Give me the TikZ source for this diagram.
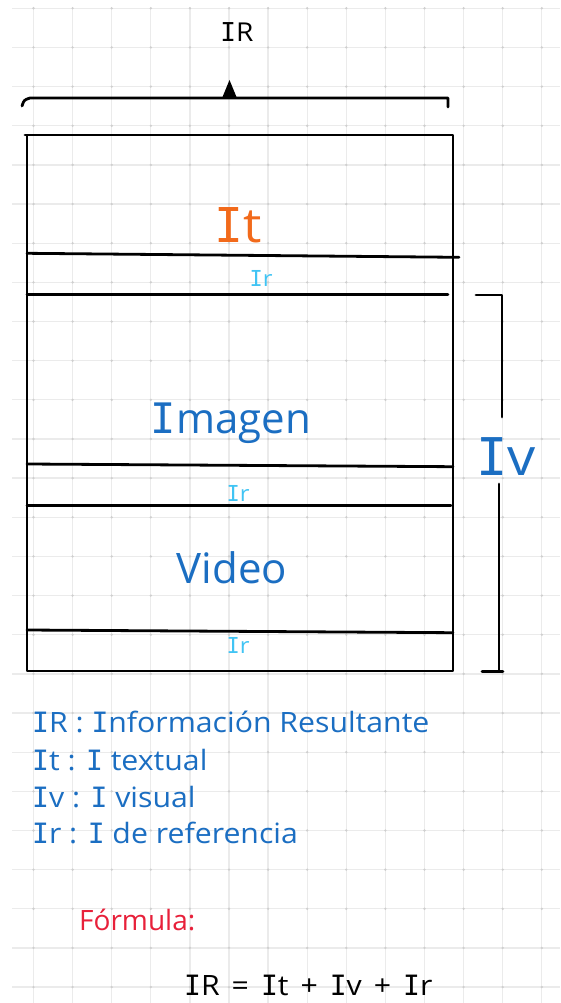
\documentclass[tikz,border=0pt]{standalone}
\usepackage{fontspec}
\setmainfont{Open Sans}
\newfontfamily\hand[FakeStretch=1.08]{Open Sans}
\newfontfamily\handn{Open Sans}
\newfontfamily\monoI{DejaVu Sans Mono}
\newcommand\WI{{\monoI I}}
\definecolor{gridc}{HTML}{EBEBEB}
\definecolor{gdot}{HTML}{CFCFCF}
\definecolor{orng}{HTML}{F26A1B}
\definecolor{lblue}{HTML}{40C4F4}
\definecolor{hblue}{HTML}{1B6EC2}
\definecolor{fred}{HTML}{E8203A}
\tikzset{
  gridline/.style={draw=gridc, line width=1.3pt},
  pen/.style={draw=black, line width=2.8pt, line cap=round, line join=round},
  lbl/.style={inner sep=0pt, anchor=base, font=\hand},
  leg/.style={inner sep=0pt, anchor=base west, text=hblue, font=\hand\fontsize{28}{30}\selectfont},
}
\begin{document}
\begin{tikzpicture}[x=1pt,y=-1pt]
\fill[white] (0,0) rectangle (560,1003);
\useasboundingbox (0,0) rectangle (560,1003);
% grid
\foreach \i in {0,...,13} \draw[gridline] ({33.5+39.1*\i},7) -- ({33.5+39.1*\i},1003);
\foreach \j in {0,...,25} \draw[gridline] (12,{8.3+39.15*\j}) -- (560,{8.3+39.15*\j});
\foreach \i in {0,...,13} \foreach \j in {0,...,25} \fill[gdot] ({33.5+39.1*\i},{8.3+39.15*\j}) circle (1.3);
% top bracket
\coordinate (bc) at (22,106);
\coordinate (bl) at (30,98);
\coordinate (br) at (448,98);
\coordinate (bt) at (448,107);
\draw[pen] (bc) .. controls (24,100) .. (bl) -- (br) -- (bt);
\coordinate (tri) at (229.5,97);
\fill (tri) ++(-7,0) -- ++(7,-17) -- ++(7,17) -- cycle;
\node[lbl, font=\hand\fontsize{26}{28}\selectfont] (IRtop) at (237,42) {\WI R};
% main box
\coordinate (tl) at (27,135);
\coordinate (tr) at (453,135);
\coordinate (brc) at (453,671);
\coordinate (blc) at (27,671);
\draw[pen] (25,135) -- (tr) -- (brc) -- (blc) -- (tl) -- cycle;
\coordinate (a1) at (27,253.3); \coordinate (b1) at (459,257.3);
\coordinate (a2) at (27,294.3); \coordinate (b2) at (448,294.3);
\coordinate (a3) at (27,464);   \coordinate (b3) at (453,466.7);
\coordinate (a4) at (27,505.5); \coordinate (b4) at (451,505.5);
\coordinate (a5) at (27,630);   \coordinate (b5) at (453,632.7);
\draw[pen] (a1) -- (b1);
\draw[pen] (a2) -- (b2);
\draw[pen] (a3) -- (b3);
\draw[pen] (a4) -- (b4);
\draw[pen] (a5) -- (b5);
% right bracket
\coordinate (r1) at (476,295); \coordinate (r2) at (502,295); \coordinate (r3) at (502,417);
\coordinate (r4) at (499,484); \coordinate (r5) at (499,671);
\coordinate (r6) at (482,671.5); \coordinate (r7) at (503,671.5);
\draw[pen] (r1) -- (r2) -- (r3);
\draw[pen] (r4) -- (r5);
\draw[pen] (r6) -- (r7);
% labels in box
\node[lbl, text=orng, font=\hand\fontsize{48}{50}\selectfont] (It) at (238,242) {\WI t};
\node[lbl, text=lblue, font=\hand\fontsize{22}{24}\selectfont] (Ir1) at (261,286) {\WI r};
\node[lbl, text=hblue, font=\handn\fontsize{42}{44}\selectfont] (Imagen) at (231,433) {\WI magen};
\node[lbl, text=lblue, font=\hand\fontsize{22}{24}\selectfont] (Ir2) at (238,501) {\WI r};
\node[lbl, text=hblue, font=\handn\fontsize{42}{44}\selectfont] (Video) at (232,583) {Video};
\node[lbl, text=lblue, font=\hand\fontsize{22}{24}\selectfont] (Ir3) at (238,653) {\WI r};
\node[lbl, text=hblue, font=\hand\fontsize{52}{54}\selectfont] (Iv) at (506,475) {\WI v};
% legend
\node[leg] (L1) at (32,732) {\WI R : \WI nformación Resultante};
\node[leg] (L2) at (32,770) {\WI t : \WI\ textual};
\node[leg] (L3) at (32,807) {\WI v : \WI\ visual};
\node[leg] (L4) at (32,843) {\WI r : \WI\ de referencia};
\node[inner sep=0pt, anchor=base west, text=fred, font=\handn\fontsize{28}{30}\selectfont] (form) at (79,930) {Fórmula:};
\node[inner sep=0pt, anchor=base west, font=\hand\fontsize{28}{30}\selectfont] (eq) at (184,995) {\spaceskip=12pt \WI R = \WI t + \WI v + \WI r};
\end{tikzpicture}
\end{document}
